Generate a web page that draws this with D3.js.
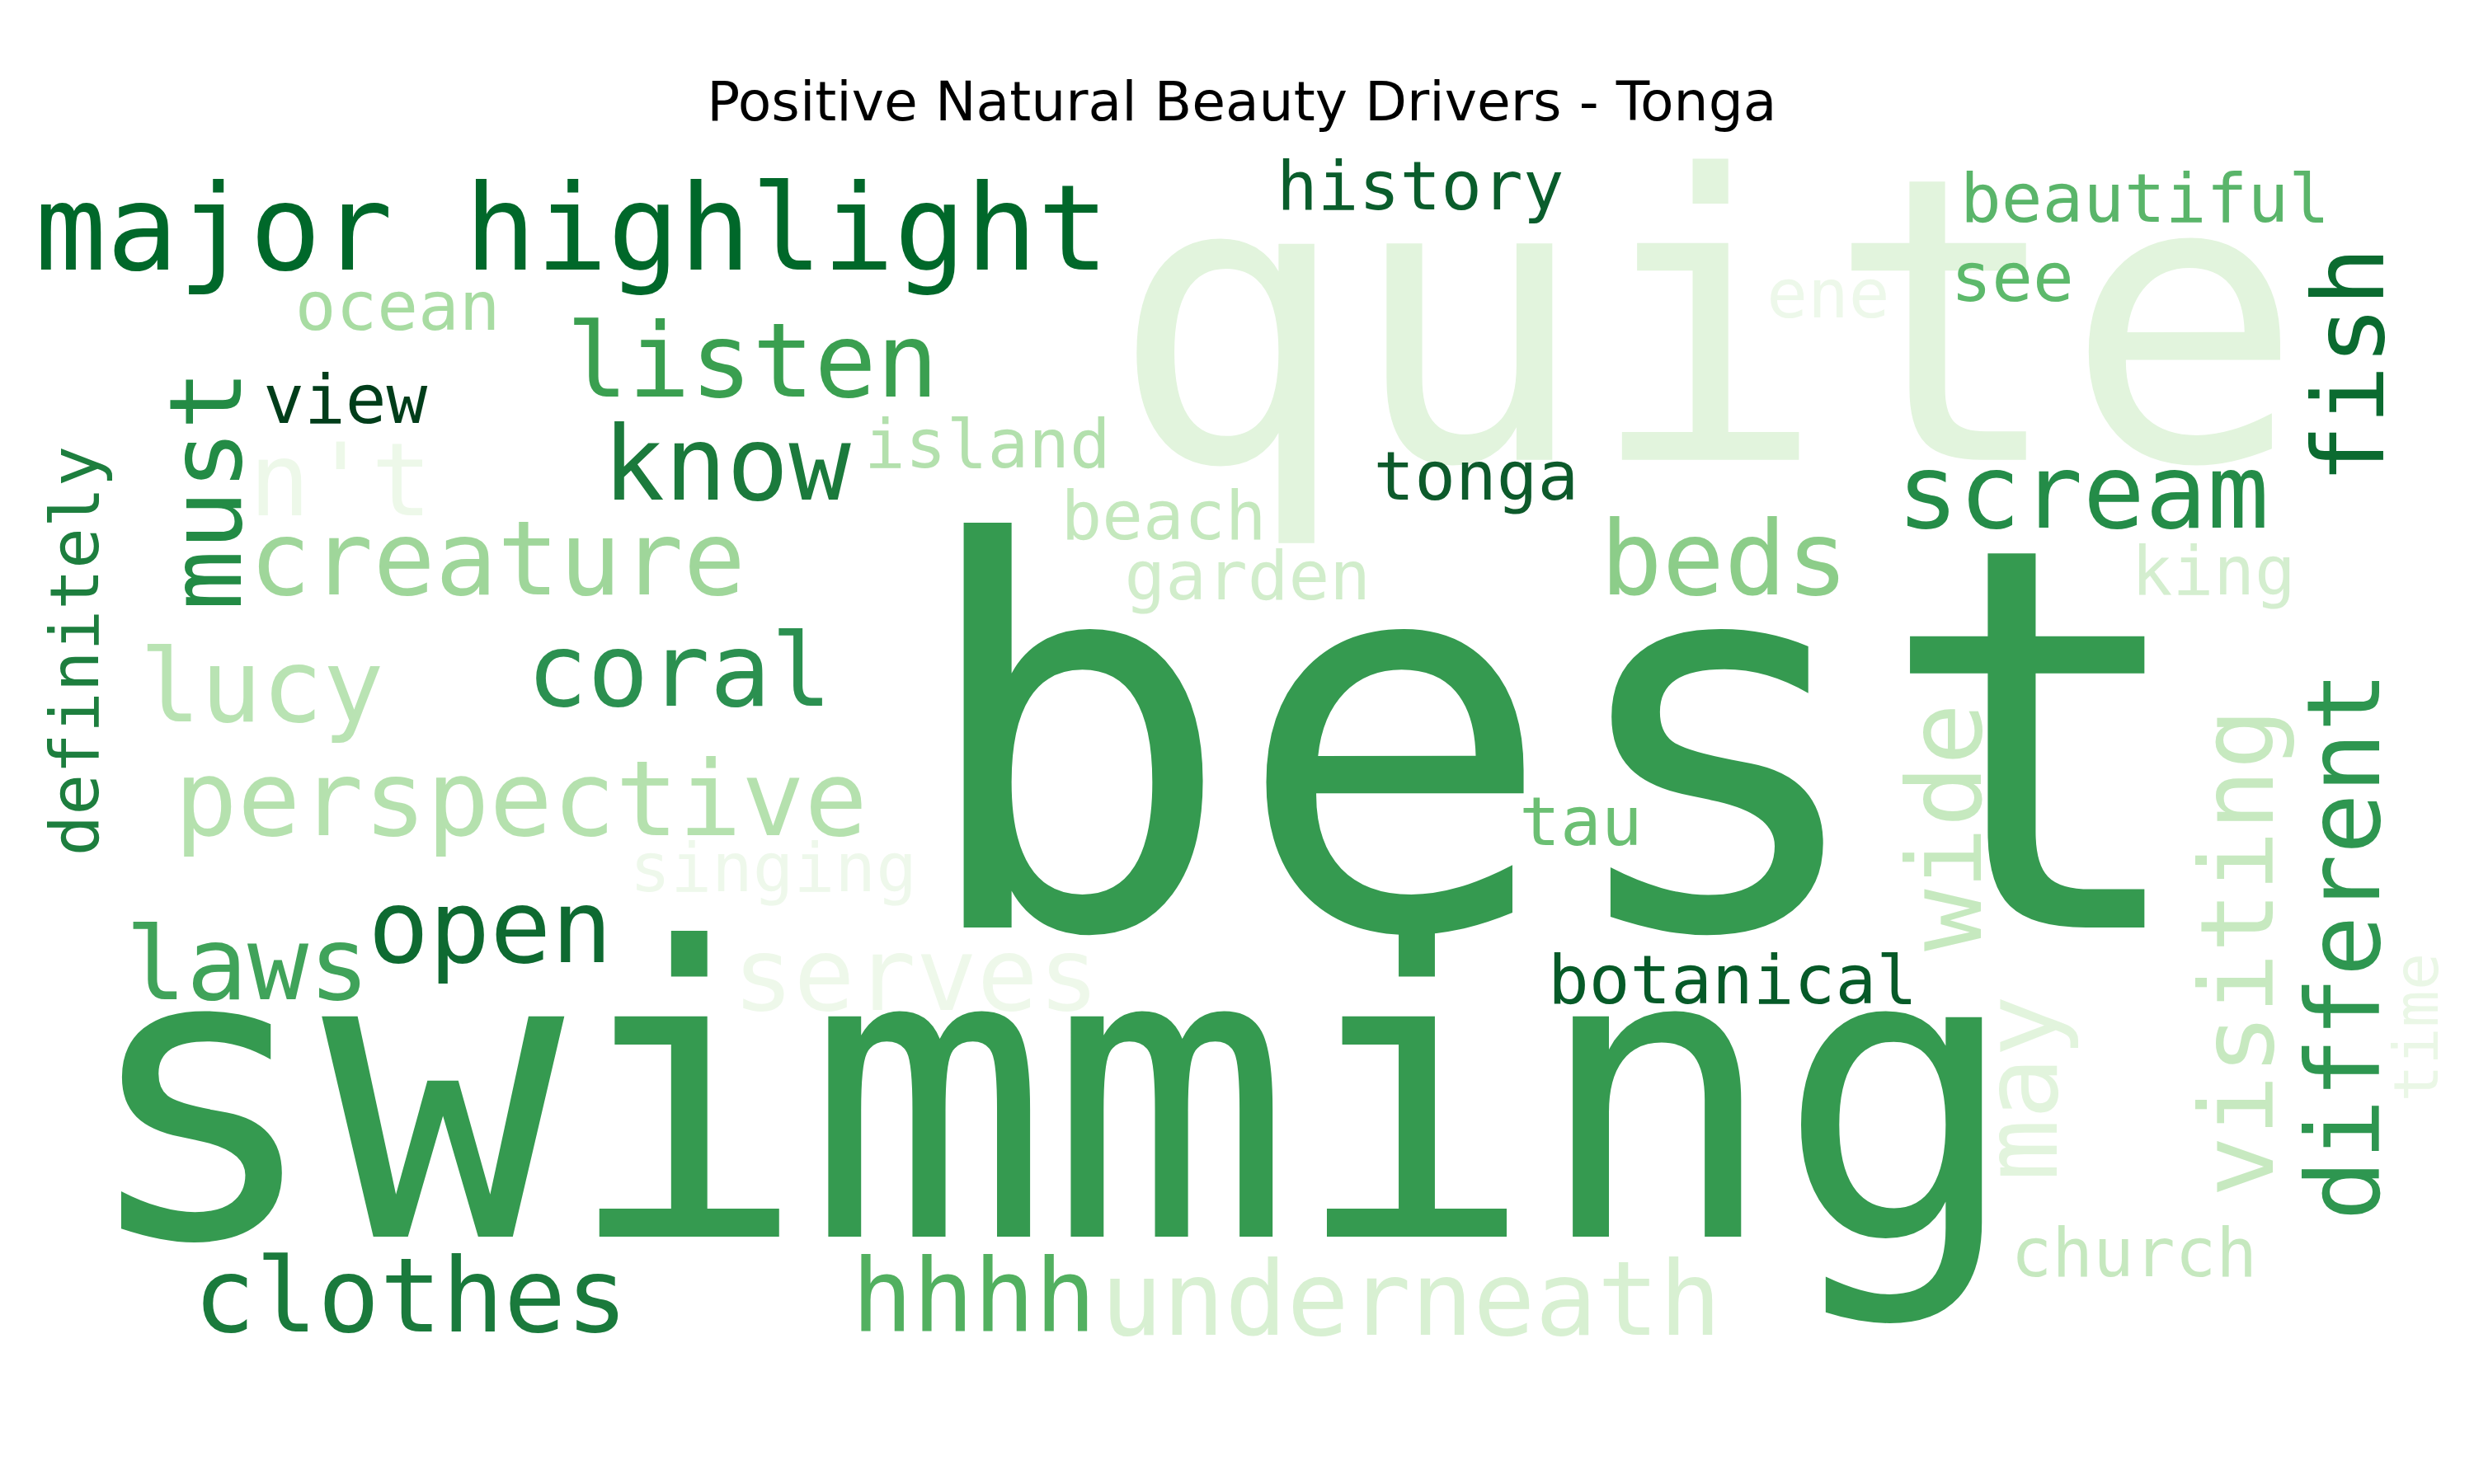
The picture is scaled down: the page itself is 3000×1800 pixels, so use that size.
<!DOCTYPE html>
<html><head><meta charset="utf-8">
<script src="https://cdn.jsdelivr.net/npm/d3@7"></script>
<style>body{margin:0;background:#fff}</style></head>
<body><svg id="c" width="3000" height="1800"></svg>
<script>
// word cloud data (layout space 1560 x 936)
const words = ["quite","best","swimming","major highlight","history","beautiful","ocean","ene","see","fish","listen","view","must","n't","know","island","tonga","scream","beach","creature","beds","garden","king","coral","lucy","definitely","perspective","wide","visiting","different","tau","singing","laws","open","serves","botanical","may","time","church","clothes","hhhh","underneath"];
const sizes = [250,336,254,75,43,43,43,43,43,62,65,43,63,64,65,43,43,65,43,65,65,43,43,64,64,43,66,65,64,64,43,43,64,64,64,43,65,39,43,65,64,65];
const posX = [700,576,50,22,805,1236,186,1114,1230,1503,357,166,152,157,380,545,866,1196,669,157,1009,709,1344,332,88,62,110,1249,1433,1500,958,397,79,232,462,976,1297,1537,1268,122,537,694];
const posY = [290,585,780,170,132,140,208,200,190,305,250,267,385,325,315,295,315,333,340,375,375,378,375,445,455,540,527,600,755,770,533,562,630,607,637,633,745,695,805,840,840,842];
const rotated = [0,0,0,0,0,0,0,0,0,1,0,0,1,0,0,0,0,0,0,0,0,0,0,0,0,1,0,1,1,1,0,0,0,0,0,0,1,1,0,0,0,0];
const colors = ["#e2f4dd","#359a50","#359a50","#00682a","#0a5d2c","#5ab56a","#a8dca2","#edf8ea","#5db96b","#0b6b30","#3a9f50","#003d1a","#238b45","#edf8e9","#1b7a3c","#b3e0ad","#0d5a2b","#248c48","#c4e8bd","#9fd69a","#8ccd89","#d1edcb","#d4eecf","#2b9050","#b9e3b3","#1d7e3e","#b5e1ae","#c6e9bf","#c7e9c0","#2e9650","#6bbf73","#eef8eb","#40a35a","#0e6a31","#eef8ea","#065a28","#e2f4dd","#eaf7e6","#c6e8bf","#1a7a3c","#52b060","#d8f0d2"];
const title = "Positive Natural Beauty Drivers - Tonga";

const svg = d3.select("#c");
const sx = d3.scaleLinear().domain([0,1560]).range([0,3000]);
const sy = d3.scaleLinear().domain([0,936]).range([0,1800]);
const k = 3000/1560;
const data = words.map((w,i)=>({w,s:sizes[i],x:posX[i],y:posY[i],r:rotated[i],c:colors[i]}));
svg.append("text").attr("x",sx(783)).attr("y",sy(76)).attr("text-anchor","middle")
  .attr("font-family","DejaVu Sans").attr("font-size",34.5*k).text(title);
svg.selectAll("text.w").data(data).enter().append("text").attr("class","w")
  .attr("font-family","DejaVu Sans Mono").attr("font-size",d=>d.s*k)
  .attr("fill",d=>d.c)
  .attr("transform",d=>`translate(${sx(d.x)},${sy(d.y)})`+(d.r?" rotate(-90)":""))
  .text(d=>d.w);
</script></body></html>
